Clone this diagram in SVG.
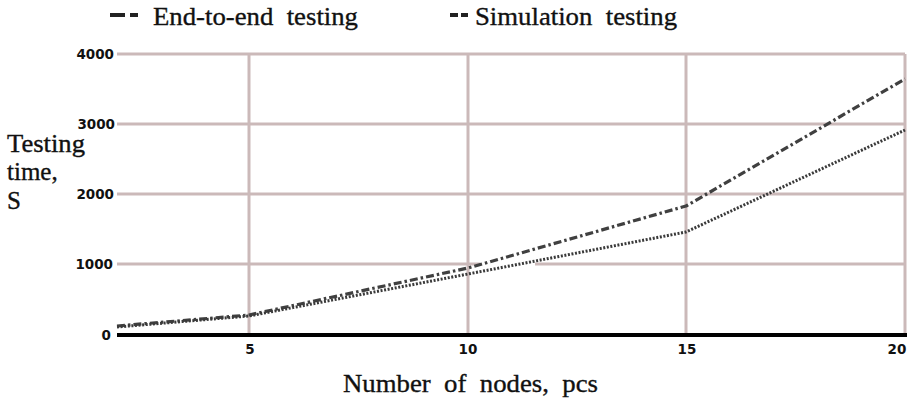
<svg xmlns="http://www.w3.org/2000/svg" width="911" height="404" viewBox="0 0 911 404">
<style>
.grid{stroke:#cbb9b9;stroke-width:3;fill:none}
.tick{font-family:"DejaVu Sans",sans-serif;font-weight:bold;font-size:13.5px;fill:#111}
.title{font-family:"Liberation Serif","Times New Roman",serif;fill:#111;stroke:#111;stroke-width:0.35}
.e2e{fill:none;stroke:#404040;stroke-width:3.2;stroke-dasharray:8 3 2.5 3;stroke-linejoin:round}
.sim{fill:none;stroke:#3a3a3a;stroke-width:3;stroke-dasharray:2 1.6;stroke-linejoin:round}
.leg{stroke:#222;stroke-width:4}
</style>
<rect width="911" height="404" fill="#fff"/>
<g id="grid">
<line class="grid" x1="117" y1="54" x2="905" y2="54"/>
<line class="grid" x1="117" y1="124" x2="905" y2="124"/>
<line class="grid" x1="117" y1="194" x2="905" y2="194"/>
<line class="grid" x1="117" y1="264" x2="480" y2="264"/>
<line class="grid" x1="535" y1="264" x2="905" y2="264"/>
<line class="grid" x1="249" y1="54" x2="249" y2="334"/>
<line class="grid" x1="468" y1="54" x2="468" y2="334"/>
<line class="grid" x1="686" y1="54" x2="686" y2="334"/>
<line class="grid" x1="905" y1="54" x2="905" y2="334"/>
</g>
<g id="axes">
<line x1="117" y1="335" x2="907" y2="335" stroke="#000" stroke-width="4"/>
<text class="tick" x="114" y="59" text-anchor="end">4000</text>
<text class="tick" x="115" y="129" text-anchor="end">3000</text>
<text class="tick" x="114" y="199" text-anchor="end">2000</text>
<text class="tick" x="113" y="269" text-anchor="end">1000</text>
<text class="tick" x="111" y="339.5" text-anchor="end">0</text>
<text class="tick" x="250" y="354" text-anchor="middle">5</text>
<text class="tick" x="468" y="354" text-anchor="middle">10</text>
<text class="tick" x="687" y="354" text-anchor="middle">15</text>
<text class="tick" x="897" y="354" text-anchor="middle">20</text>
</g>
<g id="axis-titles">
<text class="title" x="343" y="392" font-size="26" textLength="255" lengthAdjust="spacingAndGlyphs" xml:space="preserve">Number  of  nodes,  pcs</text>
<text class="title" x="7" y="152" font-size="25" textLength="78" lengthAdjust="spacingAndGlyphs">Testing</text>
<text class="title" x="7" y="180" font-size="25">time,</text>
<text class="title" x="7" y="209" font-size="25">S</text>
</g>
<g id="connectors">
<polyline id="end-to-end" class="e2e" points="117,326 249,315 468,268 686,206 905,79"/>
<polyline id="simulation" class="sim" points="117,327 249,316 468,274 686,232 905,130"/>
</g>
<g id="legend">
<g id="legend-e2e">
<line class="leg" x1="110" y1="15" x2="125" y2="15"/>
<line class="leg" x1="130" y1="15" x2="138" y2="15"/>
<text class="title" x="153" y="25" font-size="26" textLength="205" lengthAdjust="spacingAndGlyphs" xml:space="preserve">End-to-end  testing</text>
</g>
<g id="legend-sim">
<line class="leg" x1="450" y1="15" x2="458" y2="15"/>
<line class="leg" x1="461" y1="15" x2="468" y2="15"/>
<text class="title" x="475" y="25" font-size="26" textLength="202" lengthAdjust="spacingAndGlyphs" xml:space="preserve">Simulation  testing</text>
</g>
</g>
</svg>
